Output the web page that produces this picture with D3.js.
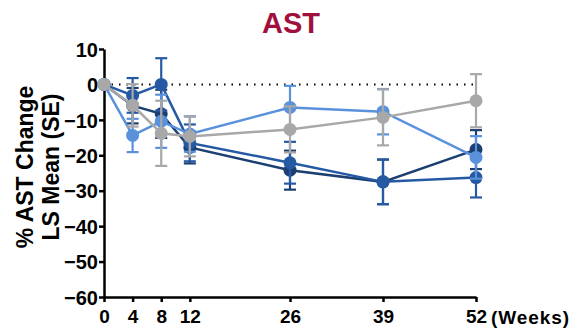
<!DOCTYPE html>
<html lang="en">
<head>
<meta charset="utf-8">
<title>AST</title>
<script src="https://d3js.org/d3.v7.min.js"></script>
<style>
  body { margin: 0; background: #fff; }
  text { font-family: Arial, "Liberation Sans", sans-serif; font-weight: bold; }
</style>
</head>
<body>
<div id="chart"></div>
<script>
// weeks and series (LS mean % change, SE)
var weeks = [0, 4, 8, 12, 26, 39, 52];
var yTicks = [10, 0, -10, -20, -30, -40, -50, -60];

var navyMean  = [0, -6.0, -8.3, -17.8, -24.2, -27.5, -18.4];
var navySE    = [0, 5.0, 6.8, 4.5, 5.5, 6.3, 5.5];
var blueMean  = [0, -3.1, 0.0, -16.5, -22.1, -27.5, -26.3];
var blueSE    = [0, 4.9, 7.4, 5.2, 5.9, 6.3, 5.6];
var lightMean = [0, -14.4, -10.4, -14.0, -6.5, -7.7, -20.6];
var lightSE   = [0, 4.7, 7.5, 5.0, 6.1, 6.4, 6.0];
var grayMean  = [0, -5.9, -13.8, -14.7, -12.7, -9.3, -4.6];
var graySE    = [0, 6.0, 9.2, 5.6, 6.5, 7.9, 7.5];

var series = [
  {mean: navyMean,  se: navySE,  color: "#1c3f72"},
  {mean: blueMean,  se: blueSE,  color: "#2659a3"},
  {mean: lightMean, se: lightSE, color: "#5a91db"},
  {mean: grayMean,  se: graySE,  color: "#a8a8a8"}
];

var W = 573, H = 331;
var margin = {top: 49, right: 97, bottom: 34, left: 104};
var width = W - margin.left - margin.right,
    height = H - margin.top - margin.bottom;

var svg = d3.select("#chart").append("svg")
    .attr("width", W)
    .attr("height", H);

svg.append("text")
    .attr("x", 291).attr("y", 33)
    .attr("text-anchor", "middle")
    .style("font-size", "29px")
    .style("fill", "#a10f3c")
    .text("AST");

var g = svg.append("g")
    .attr("transform", "translate(" + margin.left + "," + margin.top + ")");

var x = d3.scaleLinear().domain([0, 52]).range([0, width]);
var y = d3.scaleLinear().domain([-60, 10]).range([height, 0]);

// y axis
var yAxis = g.append("g")
    .call(d3.axisLeft(y).tickValues(yTicks).tickSize(5).tickSizeOuter(0).tickPadding(1));
yAxis.selectAll("text").style("font-size", "20px").style("fill", "#000").attr("dy", "0.36em");

// x axis
var xAxis = g.append("g")
    .attr("transform", "translate(0," + height + ")")
    .call(d3.axisBottom(x).tickValues(weeks).tickSize(5).tickSizeOuter(0).tickPadding(8));
xAxis.selectAll("text").style("font-size", "19px").style("fill", "#000");

[yAxis, xAxis].forEach(function(a) {
  a.select(".domain").attr("stroke", "#000").attr("stroke-width", 2.5);
  a.selectAll(".tick line").attr("stroke", "#000").attr("stroke-width", 2.5);
});

g.append("text")
    .attr("x", x(52) + 15).attr("y", height + 27)
    .attr("textLength", 78)
    .style("font-size", "19px")
    .text("(Weeks)");

// y label
var ylab = svg.append("text")
    .attr("transform", "translate(33,167) rotate(-90)")
    .attr("text-anchor", "middle")
    .style("font-size", "23px");
ylab.append("tspan").attr("x", 0).attr("dy", 0).text("% AST Change");
ylab.append("tspan").attr("x", 0).attr("dy", "26px").text("LS Mean (SE)");

// zero reference line
g.append("line")
    .attr("x1", x(0)).attr("x2", x(52))
    .attr("y1", y(0)).attr("y2", y(0))
    .attr("stroke", "#000")
    .attr("stroke-width", 2)
    .attr("stroke-dasharray", "1.5,6");

var line = d3.line()
    .x(function(d) { return x(d.w); })
    .y(function(d) { return y(d.m); });

series.forEach(function(s) {
  var pts = weeks.map(function(w, i) { return {w: w, m: s.mean[i], se: s.se[i]}; });
  var sg = g.append("g");

  // error bars
  pts.filter(function(d) { return d.se > 0; }).forEach(function(d) {
    var cx = x(d.w);
    sg.append("line")
        .attr("x1", cx).attr("x2", cx)
        .attr("y1", y(d.m + d.se)).attr("y2", y(d.m - d.se))
        .attr("stroke", s.color).attr("stroke-width", 2.2);
    [d.m + d.se, d.m - d.se].forEach(function(v) {
      sg.append("line")
          .attr("x1", cx - 6).attr("x2", cx + 6)
          .attr("y1", y(v)).attr("y2", y(v))
          .attr("stroke", s.color).attr("stroke-width", 2.2);
    });
  });

  sg.append("path")
      .datum(pts)
      .attr("d", line)
      .attr("fill", "none")
      .attr("stroke", s.color)
      .attr("stroke-width", 2.5);

  sg.selectAll("circle")
      .data(pts)
      .enter().append("circle")
      .attr("cx", function(d) { return x(d.w); })
      .attr("cy", function(d) { return y(d.m); })
      .attr("r", 6.5)
      .attr("fill", s.color);
});
</script>
</body>
</html>
